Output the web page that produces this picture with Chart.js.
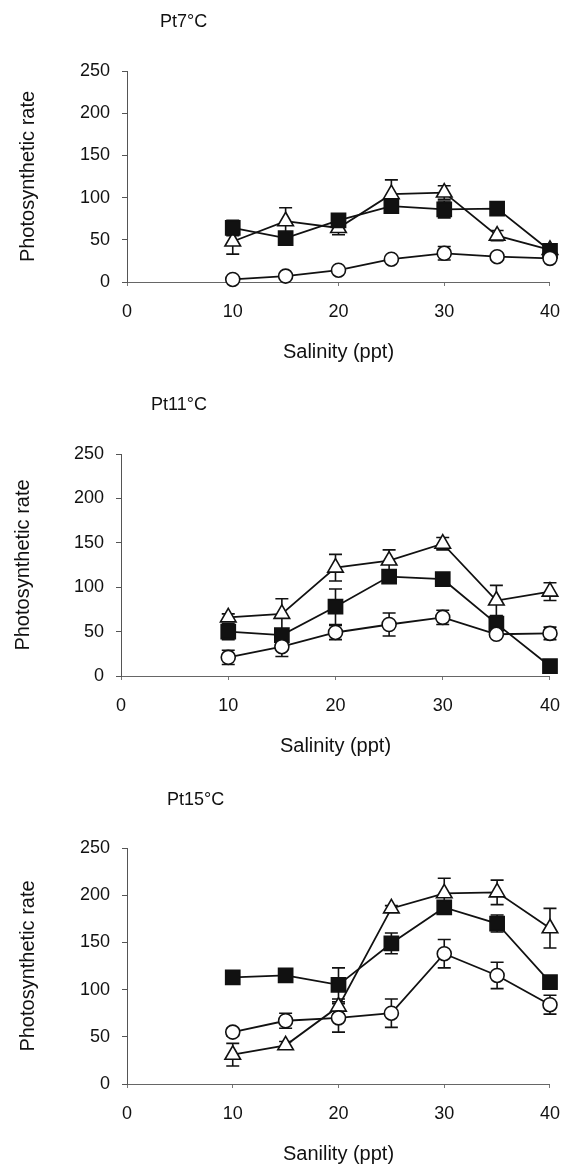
<!DOCTYPE html>
<html>
<head>
<meta charset="utf-8">
<script src="https://cdn.jsdelivr.net/npm/chart.js@4/dist/chart.umd.min.js"></script>
<style>
  html, body { margin: 0; padding: 0; background: #fff; width: 575px; height: 1166px; overflow: hidden; }
  .panel { position: absolute; left: 0; }
  canvas { display: block; }
</style>
</head>
<body>
<div class="panel" style="top:0px"><canvas id="p7" width="575" height="380"></canvas></div>
<div class="panel" style="top:380px"><canvas id="p11" width="575" height="400"></canvas></div>
<div class="panel" style="top:780px"><canvas id="p15" width="575" height="386"></canvas></div>
<script>
// Salinity levels (ppt) and axis ticks
const salinity = [10, 15, 20, 25, 30, 35, 40];
const xTicks = [0, 10, 20, 30, 40];
const yTicks = [0, 50, 100, 150, 200, 250];

// Pt 7 °C
const t7Circle   = [3, 7, 14, 27, 34, 30, 28];
const t7CircleSd = [2, 3, 2, 2, 8, 4, 2];
const t7Square   = [64, 52, 73, 90, 86, 87, 37];
const t7SquareSd = [9, 4, 6, 4, 10, 4, 4];
const t7Tri      = [48, 72, 64, 104, 106, 55, 38];
const t7TriSd    = [15, 16, 8, 17, 8, 6, 4];

// Pt 11 °C
const t11Circle   = [21, 33, 49, 58, 66, 47, 48];
const t11CircleSd = [8, 11, 8, 13, 8, 3, 7];
const t11Square   = [50, 46, 78, 112, 109, 59, 11];
const t11SquareSd = [9, 5, 20, 4, 3, 8, 3];
const t11Tri      = [66, 70, 122, 130, 149, 85, 95];
const t11TriSd    = [4, 17, 15, 12, 7, 17, 10];

// Pt 15 °C
const t15Circle   = [55, 67, 70, 75, 138, 115, 84];
const t15CircleSd = [4, 8, 15, 15, 15, 14, 10];
const t15Square   = [113, 115, 105, 149, 187, 170, 108];
const t15SquareSd = [4, 3, 18, 11, 6, 9, 5];
const t15Tri      = [31, 41, 82, 186, 202, 203, 165];
const t15TriSd    = [12, 4, 8, 3, 16, 13, 21];

const FONT = "'Liberation Sans', Arial, Helvetica, sans-serif";
const INK = '#111';
Chart.defaults.font.family = FONT;
Chart.defaults.color = INK;

// vertical error bars with caps, drawn beneath the markers
const errorBars = {
  id: 'errorBars',
  beforeDatasetsDraw(chart) {
    const { ctx, scales: { x, y } } = chart;
    ctx.save();
    ctx.strokeStyle = INK;
    ctx.lineWidth = 1.6;
    chart.data.datasets.forEach(ds => {
      if (!ds.errors) return;
      ds.data.forEach((p, i) => {
        const e = ds.errors[i];
        if (!e) return;
        const px = x.getPixelForValue(p.x);
        const top = y.getPixelForValue(p.y + e);
        const bot = y.getPixelForValue(p.y - e);
        const cap = 6.5;
        ctx.beginPath();
        ctx.moveTo(px, top); ctx.lineTo(px, bot);
        ctx.moveTo(px - cap, top); ctx.lineTo(px + cap, top);
        ctx.moveTo(px - cap, bot); ctx.lineTo(px + cap, bot);
        ctx.stroke();
      });
    });
    ctx.restore();
  }
};

// panel heading placed relative to the plot area
const panelHeading = {
  id: 'panelHeading',
  afterDraw(chart, args, opts) {
    const { ctx, chartArea } = chart;
    ctx.save();
    ctx.font = `${opts.size}px ${FONT}`;
    ctx.fillStyle = INK;
    ctx.textBaseline = 'middle';
    ctx.textAlign = 'left';
    ctx.fillText(opts.text, chartArea.left + opts.dx, chartArea.top + opts.dy);
    ctx.restore();
  }
};

function series(values, errors, style, radius, fill) {
  return {
    data: salinity.map((s, i) => ({ x: s, y: values[i] })),
    errors,
    clip: false,
    borderColor: INK,
    borderWidth: 1.8,
    pointStyle: style,
    pointRadius: radius,
    pointHoverRadius: radius,
    pointBackgroundColor: fill,
    pointBorderColor: INK,
    pointBorderWidth: 1.6,
    tension: 0,
    fill: false
  };
}

function panel(id, heading, xTitle, lay, datasets) {
  const canvas = document.getElementById(id);
  const H = canvas.height;
  const xBoxH = H - lay.bottom;
  new Chart(canvas, {
    type: 'line',
    data: { datasets },
    options: {
      responsive: false,
      animation: false,
      devicePixelRatio: 1,
      layout: { padding: { left: 0, right: 575 - lay.right, top: lay.top, bottom: 0 } },
      plugins: {
        legend: { display: false },
        tooltip: { enabled: false },
        panelHeading: { text: heading, dx: lay.headDx, dy: lay.headDy, size: 18 }
      },
      scales: {
        x: {
          type: 'linear',
          min: 0, max: 40,
          afterBuildTicks: s => { s.ticks = xTicks.map(v => ({ value: v })); },
          afterFit: s => { s.height = xBoxH; },
          grid: { drawOnChartArea: false, drawTicks: true, tickLength: 4, color: '#777', lineWidth: 1 },
          border: { display: true, color: '#666', width: 1, dash: [6, 3] },
          ticks: { padding: 15, font: { size: 18 }, color: INK, maxRotation: 0 },
          title: { display: true, text: xTitle, font: { size: 20 }, color: INK, padding: { top: 0, bottom: xBoxH - 12 - 70 } }
        },
        y: {
          type: 'linear',
          min: 0, max: 250,
          afterBuildTicks: s => { s.ticks = yTicks.map(v => ({ value: v })); },
          afterFit: s => { s.width = lay.left; },
          grid: { drawOnChartArea: false, drawTicks: true, tickLength: 5, color: '#555', lineWidth: 1 },
          border: { display: true, color: '#555', width: 1, dash: [7, 3, 2, 3] },
          ticks: { padding: 12, font: { size: 18 }, color: INK },
          title: { display: true, text: 'Photosynthetic rate', font: { size: 20 }, color: INK, padding: { top: lay.titleX - 12, bottom: 0 } }
        }
      }
    },
    plugins: [errorBars, panelHeading]
  });
}

panel('p7', 'Pt7°C', 'Salinity (ppt)',
  { left: 127, right: 558, top: 71, bottom: 282, headDx: 33, headDy: -49, titleX: 28 },
  [
    series(t7Circle, t7CircleSd, 'circle', 7, '#fff'),
    series(t7Square, t7SquareSd, 'rect', 10, INK),
    series(t7Tri, t7TriSd, 'triangle', 9, '#fff')
  ]);

panel('p11', 'Pt11°C', 'Salinity (ppt)',
  { left: 121, right: 561, top: 74, bottom: 296, headDx: 30, headDy: -49, titleX: 23 },
  [
    series(t11Circle, t11CircleSd, 'circle', 7, '#fff'),
    series(t11Square, t11SquareSd, 'rect', 10, INK),
    series(t11Tri, t11TriSd, 'triangle', 9, '#fff')
  ]);

panel('p15', 'Pt15°C', 'Sanility (ppt)',
  { left: 127, right: 560, top: 68, bottom: 304, headDx: 40, headDy: -48, titleX: 28 },
  [
    series(t15Circle, t15CircleSd, 'circle', 7, '#fff'),
    series(t15Square, t15SquareSd, 'rect', 10, INK),
    series(t15Tri, t15TriSd, 'triangle', 9, '#fff')
  ]);
</script>
</body>
</html>
